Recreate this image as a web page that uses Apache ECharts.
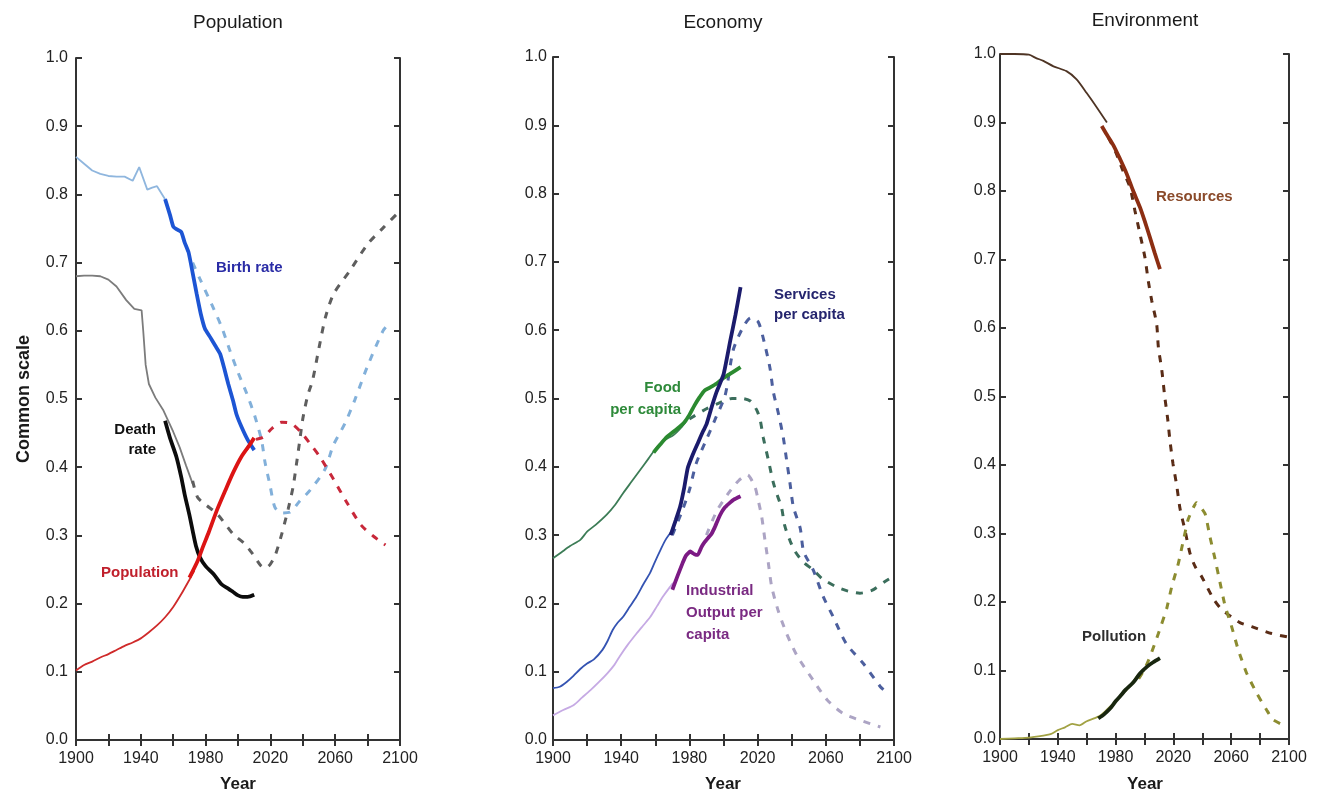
<!DOCTYPE html>
<html>
<head>
<meta charset="utf-8">
<script src="https://cdn.jsdelivr.net/npm/echarts@6/dist/echarts.min.js"></script>
<style>html,body{margin:0;padding:0;background:#fff}#c{width:1318px;height:798px}</style>
</head>
<body>
<div id="c"></div>
<script>
// ---------- tick labels ----------
const yearTicks = [1900, 1940, 1980, 2020, 2060, 2100];
const panelTitles = ['Population', 'Economy', 'Environment'];

// ---------- Population panel ----------
const birthHist = [[1900,0.855],[1905,0.845],[1910,0.835],[1915,0.830],[1920,0.827],[1925,0.826],[1930,0.826],[1935,0.820],[1939,0.840],[1944,0.807],[1947,0.810],[1950,0.812],[1955,0.793]];
const birthData = [[1955,0.793],[1958,0.770],[1960,0.753],[1962,0.749],[1965,0.745],[1967,0.730],[1969.5,0.715],[1972,0.685],[1974.5,0.654],[1977,0.625],[1979.6,0.603],[1983,0.590],[1986,0.578],[1989,0.566],[1991.5,0.545],[1994,0.522],[1997,0.497],[1999,0.478],[2002,0.460],[2006,0.440],[2010,0.425]];
const birthModel = [[1972,0.700],[1976.5,0.676],[1983.7,0.639],[1990,0.605],[1995,0.571],[2000,0.539],[2005.4,0.508],[2010.5,0.474],[2014.6,0.439],[2016.7,0.407],[2019.8,0.373],[2022.8,0.341],[2027,0.333],[2032,0.334],[2038,0.350],[2044.4,0.366],[2053.7,0.397],[2058.8,0.432],[2066,0.464],[2072,0.498],[2079.6,0.546],[2089.5,0.600],[2093,0.610]];
const deathHist = [[1900,0.680],[1905,0.681],[1910,0.681],[1915,0.680],[1920,0.675],[1925,0.665],[1931,0.645],[1936,0.632],[1940.5,0.630],[1941.5,0.600],[1943,0.550],[1945,0.522],[1949,0.502],[1954,0.483],[1960,0.452],[1964,0.429],[1968,0.402],[1972,0.376]];
const deathData = [[1955,0.468],[1958,0.443],[1962,0.415],[1965,0.385],[1967,0.361],[1970,0.330],[1972,0.307],[1974,0.285],[1976.5,0.268],[1980,0.255],[1985,0.243],[1990,0.228],[1994,0.222],[1997,0.217],[2000,0.212],[2003,0.210],[2006,0.210],[2010,0.213]];
const deathModel = [[1972,0.380],[1975,0.356],[1980,0.345],[1987,0.332],[1997,0.302],[2004,0.288],[2009,0.273],[2014,0.256],[2017,0.252],[2020,0.258],[2023,0.271],[2027,0.302],[2031,0.339],[2034,0.371],[2036,0.403],[2038,0.437],[2040,0.471],[2043,0.505],[2046,0.527],[2050,0.575],[2054,0.620],[2059,0.654],[2069,0.688],[2080,0.727],[2090,0.752],[2100,0.776]];
const popHist = [[1900,0.102],[1905,0.110],[1910,0.115],[1915,0.121],[1920,0.126],[1925,0.132],[1930,0.138],[1935,0.143],[1940,0.149],[1945,0.158],[1950,0.168],[1955,0.180],[1960,0.195],[1965,0.214],[1970,0.235],[1973,0.248]];
const popData = [[1970,0.238],[1975,0.262],[1978,0.281],[1982,0.305],[1987,0.337],[1992,0.365],[1997,0.392],[2002,0.415],[2007,0.432],[2010,0.443]];
const popModel = [[2005,0.425],[2009.5,0.439],[2015.6,0.444],[2021,0.457],[2027,0.466],[2033,0.464],[2039,0.451],[2045,0.433],[2050.6,0.415],[2058.8,0.383],[2067,0.349],[2076,0.315],[2084,0.298],[2091,0.286]];

// ---------- Economy panel ----------
const foodHist = [[1900,0.266],[1905,0.275],[1910,0.284],[1916,0.293],[1920,0.305],[1925,0.315],[1931.5,0.330],[1936,0.343],[1941,0.361],[1946,0.378],[1951,0.395],[1956,0.412],[1961,0.429],[1966,0.440],[1970.5,0.446],[1975,0.457],[1978.5,0.468]];
const foodData = [[1959,0.421],[1963,0.433],[1967,0.444],[1971,0.452],[1974.5,0.459],[1977,0.465],[1980,0.476],[1983,0.490],[1986,0.502],[1989,0.512],[1992,0.516],[1996,0.522],[2000,0.530],[2005,0.538],[2010,0.546]];
const foodModel = [[1980,0.470],[1990,0.485],[1997,0.493],[2005,0.500],[2011,0.500],[2016,0.496],[2019.5,0.483],[2021.4,0.470],[2023.4,0.442],[2026.3,0.410],[2029.3,0.376],[2032,0.355],[2034,0.341],[2036,0.313],[2039,0.292],[2042,0.276],[2047,0.260],[2052.6,0.249],[2058,0.236],[2066.4,0.224],[2073,0.218],[2080,0.215],[2087,0.219],[2094.7,0.232],[2100,0.240]];
const servHist = [[1900,0.076],[1904,0.078],[1908,0.085],[1912,0.094],[1916,0.104],[1920,0.112],[1924,0.118],[1929,0.132],[1932,0.145],[1935,0.161],[1938,0.172],[1941,0.180],[1945,0.195],[1949,0.210],[1953,0.228],[1957,0.245],[1960,0.262],[1963,0.278],[1966,0.293],[1970,0.307]];
const servData = [[1969,0.300],[1972,0.322],[1974.5,0.341],[1977,0.370],[1979,0.398],[1982,0.418],[1985,0.435],[1988,0.452],[1990,0.462],[1993,0.487],[1996,0.510],[2000,0.535],[2004,0.585],[2007,0.622],[2010,0.663]];
const servModel = [[1970,0.300],[1976,0.337],[1980,0.366],[1984,0.405],[1990,0.440],[1995,0.469],[2001,0.505],[2005.7,0.571],[2011.6,0.605],[2016,0.618],[2020.4,0.612],[2024.3,0.578],[2027.3,0.544],[2029.2,0.510],[2032.2,0.478],[2035,0.444],[2037,0.410],[2039,0.376],[2041,0.341],[2045,0.310],[2047,0.276],[2052.6,0.249],[2058.5,0.210],[2064.4,0.180],[2072,0.141],[2082,0.112],[2092,0.078],[2095,0.071]];
const indHist = [[1900,0.036],[1906,0.044],[1912,0.051],[1917,0.062],[1922,0.073],[1927,0.085],[1932,0.098],[1936,0.110],[1939,0.122],[1944,0.140],[1949,0.156],[1953,0.168],[1957,0.180],[1961,0.196],[1964.5,0.210],[1968,0.222],[1970.5,0.230]];
const indData = [[1970,0.220],[1973,0.240],[1976,0.259],[1978,0.270],[1980.5,0.276],[1983,0.272],[1985,0.271],[1987,0.282],[1989,0.290],[1991,0.296],[1993,0.302],[1995,0.312],[1997,0.324],[1999,0.334],[2001,0.341],[2004,0.348],[2006,0.352],[2010,0.357]];
const indModel = [[1990,0.300],[1996,0.335],[2002.8,0.361],[2009,0.380],[2014,0.388],[2018.5,0.370],[2020,0.355],[2022.4,0.327],[2024.3,0.293],[2026.3,0.259],[2028.3,0.224],[2032,0.190],[2037,0.156],[2043,0.124],[2052.5,0.088],[2060.7,0.059],[2070,0.039],[2080,0.029],[2092,0.019]];

// ---------- Environment panel ----------
const resHist = [[1900,1.000],[1910,1.000],[1920,0.999],[1925,0.994],[1930,0.990],[1937,0.982],[1946,0.975],[1953,0.963],[1960,0.943],[1967,0.922],[1974,0.900]];
const resData = [[1970.4,0.895],[1974,0.882],[1978.4,0.867],[1983,0.847],[1987.7,0.825],[1992,0.801],[1996.9,0.776],[2000,0.757],[2003.8,0.732],[2007,0.710],[2010.7,0.686]];
const resModel = [[1975,0.878],[1980,0.857],[1985,0.830],[1990,0.805],[1993.4,0.771],[1996.9,0.737],[2000.3,0.703],[2002.6,0.669],[2005,0.640],[2008.4,0.606],[2009.6,0.572],[2012,0.538],[2014,0.500],[2016,0.468],[2017.6,0.436],[2019.7,0.402],[2022.3,0.370],[2024.6,0.336],[2028,0.305],[2031.5,0.271],[2035,0.252],[2039.6,0.237],[2047.6,0.205],[2053,0.190],[2060.3,0.178],[2066,0.170],[2074.2,0.164],[2088,0.154],[2099,0.149]];
const polHist = [[1900,0.000],[1910,0.001],[1920,0.002],[1930,0.005],[1935,0.007],[1940,0.013],[1945,0.017],[1950,0.022],[1955,0.020],[1960,0.026],[1965,0.030],[1970,0.035],[1975,0.045],[1980,0.055],[1985,0.066],[1990,0.077],[1995,0.092],[2000,0.100]];
const polData = [[1968,0.030],[1972,0.036],[1976,0.044],[1980,0.055],[1983,0.062],[1987,0.072],[1992,0.082],[1997,0.096],[2002,0.106],[2006,0.112],[2010.7,0.118]];
const polModel = [[1996,0.088],[2000,0.102],[2003.8,0.120],[2009.6,0.154],[2015.3,0.190],[2018.8,0.222],[2023.4,0.256],[2026.9,0.290],[2030.3,0.321],[2036,0.345],[2041.9,0.329],[2045.3,0.295],[2048.8,0.263],[2052.2,0.229],[2055.7,0.195],[2060.3,0.164],[2064.9,0.130],[2070.7,0.096],[2077.6,0.067],[2084.6,0.042],[2089,0.028],[2098.4,0.018]];

// ---------- chart ----------
const FONT = '"Liberation Sans", Arial, Helvetica, sans-serif';
const AX = '#333';
const grids = [
  {left: 76, top: 58, width: 324, height: 682},
  {left: 553, top: 57, width: 341, height: 683},
  {left: 1000, top: 54, width: 289, height: 685}
];
const labelMargins = [8, 6, 4];

const xAxes = [], yAxes = [];
grids.forEach((g, gi) => {
  const tick = {inside: true, length: 6, lineStyle: {color: AX, width: 2}};
  const line = {show: true, lineStyle: {color: AX, width: 2}};
  xAxes.push({
    type: 'value', gridIndex: gi, position: 'bottom', min: 1900, max: 2100, interval: 20,
    axisLine: line, axisTick: tick, splitLine: {show: false},
    axisLabel: {color: '#222', fontSize: 16, fontFamily: FONT, margin: 11,
      formatter: v => yearTicks.indexOf(v) >= 0 ? String(v) : ''}
  });
  xAxes.push({
    type: 'value', gridIndex: gi, position: 'top', min: 1900, max: 2100, interval: 20,
    axisLine: line, axisTick: tick, splitLine: {show: false}, axisLabel: {show: false}
  });
  yAxes.push({
    type: 'value', gridIndex: gi, position: 'left', min: 0, max: 1, interval: 0.1,
    axisLine: line, axisTick: tick, splitLine: {show: false},
    axisLabel: {color: '#222', fontSize: 16, fontFamily: FONT, margin: labelMargins[gi],
      formatter: v => v.toFixed(1)}
  });
  yAxes.push({
    type: 'value', gridIndex: gi, position: 'right', min: 0, max: 1, interval: 0.1,
    axisLine: line, axisTick: tick, splitLine: {show: false}, axisLabel: {show: false}
  });
});

function ser(data, gi, color, kind, smooth) {
  const ls = {color: color};
  if (kind === 'thin') ls.width = 1.8;
  if (kind === 'thick') ls.width = 3.8;
  if (kind === 'dash') { ls.width = 3; ls.type = [7, 8]; ls.cap = 'butt'; }
  return {
    type: 'line', xAxisIndex: gi * 2, yAxisIndex: gi * 2, data: data,
    symbol: 'none', smooth: smooth === undefined ? 0.25 : smooth, lineStyle: ls,
    silent: true, animation: false,
    z: kind === 'thick' ? 4 : (kind === 'dash' ? 3 : 2)
  };
}

const series = [
  ser(birthHist, 0, '#8fb6de', 'thin', 0),
  ser(deathHist, 0, '#7c7c7c', 'thin', 0),
  ser(popHist, 0, '#cf2a2a', 'thin'),
  ser(birthModel, 0, '#82b0da', 'dash'),
  ser(deathModel, 0, '#5e5e5e', 'dash'),
  ser(popModel, 0, '#c8283a', 'dash'),
  ser(birthData, 0, '#1d55d4', 'thick', 0.15),
  ser(deathData, 0, '#0c0c0c', 'thick'),
  ser(popData, 0, '#dc1414', 'thick'),

  ser(foodHist, 1, '#3c7c56', 'thin'),
  ser(servHist, 1, '#3453b2', 'thin'),
  ser(indHist, 1, '#c6aae4', 'thin'),
  ser(foodModel, 1, '#3b6e5c', 'dash'),
  ser(servModel, 1, '#4c5f9e', 'dash'),
  ser(indModel, 1, '#aca4c4', 'dash'),
  ser(foodData, 1, '#2b8a30', 'thick'),
  ser(servData, 1, '#1b1b6c', 'thick', 0.15),
  ser(indData, 1, '#7c1a84', 'thick', 0.1),

  ser(resHist, 2, '#4e3424', 'thin'),
  ser(polHist, 2, '#a2a244', 'thin'),
  ser(resModel, 2, '#5a2c16', 'dash'),
  ser(polModel, 2, '#8c8c30', 'dash', 0.15),
  ser(resData, 2, '#8c2e12', 'thick'),
  ser(polData, 2, '#18260f', 'thick')
];

function txt(text, x, y, color, opts) {
  opts = opts || {};
  return {
    type: 'text', x: x, y: y, rotation: opts.rot || 0, z: 100, silent: true,
    style: {
      text: text, fill: color, align: opts.align || 'left', verticalAlign: 'middle',
      font: (opts.weight || 'bold') + ' ' + (opts.size || 15) + 'px ' + FONT,
      lineHeight: opts.lh || 20
    }
  };
}

const graphics = [
  txt(panelTitles[0], 238, 23, '#1a1a1a', {align: 'center', weight: 'normal', size: 19}),
  txt(panelTitles[1], 723, 23, '#1a1a1a', {align: 'center', weight: 'normal', size: 19}),
  txt(panelTitles[2], 1145, 21, '#1a1a1a', {align: 'center', weight: 'normal', size: 19}),
  txt('Year', 238, 784, '#1a1a1a', {align: 'center', size: 17}),
  txt('Year', 723, 784, '#1a1a1a', {align: 'center', size: 17}),
  txt('Year', 1145, 784, '#1a1a1a', {align: 'center', size: 17}),
  txt('Common scale', 24, 399, '#1a1a1a', {align: 'center', size: 18, rot: Math.PI / 2}),
  txt('Birth rate', 216, 268, '#2a2ca6', {}),
  txt('Death\nrate', 156, 440, '#111111', {align: 'right'}),
  txt('Population', 101, 573, '#c0202c', {}),
  txt('Services\nper capita', 774, 305, '#25256e', {}),
  txt('Food\nper capita', 681, 399, '#2e8a3a', {align: 'right', lh: 22}),
  txt('Industrial\nOutput per\ncapita', 686, 613, '#7a2a82', {lh: 22}),
  txt('Resources', 1156, 197, '#8a4a2a', {}),
  txt('Pollution', 1082, 637, '#2e2e2e', {})
];

const chart = echarts.init(document.getElementById('c'), null, {renderer: 'canvas'});
chart.setOption({
  backgroundColor: '#ffffff',
  animation: false,
  grid: grids,
  xAxis: xAxes,
  yAxis: yAxes,
  series: series,
  graphic: graphics
});
</script>
</body>
</html>
